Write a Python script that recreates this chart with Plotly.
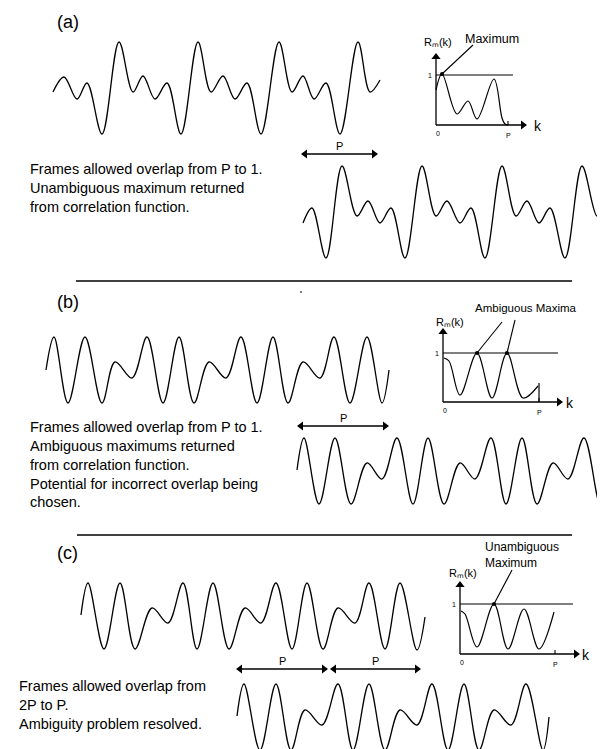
import plotly.graph_objects as go

# ---------------- data (page pixel coordinates) -------------
# (a) signal frames: extremum points
a_top_x = [53, 64, 77, 87, 102, 119, 133, 143, 155, 167, 181, 198, 211, 223, 235, 247, 261, 279, 292, 303, 314, 326, 340, 358, 370, 380]
a_top_y = [92, 77, 99, 83, 134, 42, 92, 76, 99, 83, 134, 42, 92, 76, 99, 83, 134, 42, 92, 76, 99, 83, 134, 42, 92, 80]
a_bot_x = [303, 312, 326, 342, 357, 368, 380, 391, 405, 422, 436, 447, 460, 471, 485, 502, 516, 527, 539, 550, 565, 582, 597, 604]
a_bot_y = [223, 208, 258, 166, 216, 201, 223, 208, 258, 166, 216, 201, 223, 208, 258, 166, 216, 201, 223, 208, 258, 166, 216, 204]
# (b)
b_top_x = [46, 54, 68, 85, 102, 115, 132, 147, 163, 179, 194, 209, 226, 241, 257, 273, 288, 303, 320, 334, 350, 367, 382, 389]
b_top_y = [370, 337, 403, 337, 403, 362, 378, 337, 403, 337, 403, 362, 378, 337, 403, 337, 403, 362, 378, 337, 403, 337, 403, 370]
b_bot_x = [297, 304, 319, 335, 351, 367, 382, 397, 413, 428, 444, 460, 475, 491, 506, 522, 537, 553, 568, 584, 600, 605]
b_bot_y = [470, 438, 504, 438, 504, 463, 479, 438, 504, 438, 504, 463, 479, 438, 504, 438, 504, 463, 479, 438, 504, 493]
# (c)
c_top_x = [81, 88, 104, 120, 135, 152, 168, 183, 197, 213, 229, 245, 261, 276, 292, 307, 323, 338, 355, 369, 385, 400, 417, 425]
c_top_y = [615, 583, 649, 583, 649, 608, 623, 583, 649, 583, 649, 608, 623, 583, 649, 583, 649, 608, 623, 583, 649, 583, 650, 617]
c_bot_x = [237, 244, 260, 276, 291, 305, 322, 338, 353, 369, 385, 400, 417, 432, 448, 464, 479, 494, 511, 526, 543, 549]
c_bot_y = [716, 684, 750, 684, 750, 710, 725, 684, 750, 684, 750, 710, 725, 684, 750, 684, 750, 710, 725, 684, 750, 717]

# correlation-function insets R_m(k)
ra_x = [436, 442, 457, 468, 477, 494, 502, 505, 508]
ra_y = [90, 74, 114, 101, 119, 79, 118, 124, 125]
rb_x = [444, 449, 460, 477, 492, 507, 523, 538]
rb_y = [358, 361, 395, 353, 398, 353, 398, 386]
rc_x = [461, 465, 477, 494, 508, 524, 539, 554]
rc_y = [611, 614, 647, 604, 649, 609, 649, 612]

# inset axes
inset_ox = [436, 443, 460]
inset_oy = [125, 402, 654]
inset_ytip = [53, 328, 581]
inset_xtip = [527, 563, 580]
inset_one = [75, 353, 604]
inset_one_end = [513, 558, 573]
inset_p = [508, 539, 555]
inset_label_x = [438, 450, 463]
inset_label_y = [42, 322, 573]
inset_k_x = [538, 570, 586]

# maxima marked on the correlation functions, and the pointer start points
max_x = [442, 477, 507, 494]
max_y = [74, 353, 353, 604]
ptr_x = [473, 502, 515, 512]
ptr_y = [45, 322, 320, 570]

# double-headed "P" arrows
p_x0 = [301, 297, 236, 330]
p_x1 = [378, 389, 328, 421]
p_y = [154, 426, 669, 669]

# separators
sep_x0 = [76, 77]
sep_x1 = [572, 572]
sep_y = [281, 535]

panel_labels = ["(a)", "(b)", "(c)"]
panel_label_y = [22, 302, 553]

text_a = ["Frames allowed overlap from P to 1.", "Unambiguous maximum returned", "from correlation function."]
text_b = ["Frames allowed overlap from P to 1.", "Ambiguous maximums returned", "from correlation function.",
          "Potential for incorrect overlap being", "chosen."]
text_c = ["Frames allowed overlap from", "2P to P.", "Ambiguity problem resolved."]
text_block_x = [28, 28, 17]
text_block_y = [188, 464, 705]

FONT = "Liberation Sans, Arial, sans-serif"
fig = go.Figure()


def curve(x, y, w=1.3):
    fig.add_trace(go.Scatter(x=x, y=y, mode="lines", hoverinfo="skip",
                             line=dict(color="black", width=w, shape="spline", smoothing=1.0)))


for xs, ys in [(a_top_x, a_top_y), (a_bot_x, a_bot_y), (b_top_x, b_top_y),
               (b_bot_x, b_bot_y), (c_top_x, c_top_y), (c_bot_x, c_bot_y)]:
    curve(xs, ys, 1.3)
for xs, ys in [(ra_x, ra_y), (rb_x, rb_y), (rc_x, rc_y)]:
    curve(xs, ys, 1.2)

ann = []
shapes = []
heads_x, heads_y, heads_sym = [], [], []


def text(x, y, s, size, anchor="left"):
    ann.append(dict(x=x, y=y, xref="x", yref="y", text=s, showarrow=False,
                    xanchor=anchor, yanchor="middle", align="left",
                    font=dict(family=FONT, size=size, color="black")))


def line(x0, y0, x1, y1, w=1.2):
    shapes.append(dict(type="line", x0=x0, y0=y0, x1=x1, y1=y1, xref="x", yref="y",
                       line=dict(color="black", width=w)))


# insets
for i in range(3):
    ox, oy = inset_ox[i], inset_oy[i]
    line(ox, oy, ox, inset_ytip[i] + 4, 1.3)
    line(ox, oy, inset_xtip[i] - 4, oy, 1.3)
    heads_x += [ox, inset_xtip[i] - 4]
    heads_y += [inset_ytip[i] + 4, oy]
    heads_sym += ["triangle-up", "triangle-right"]
    line(ox, inset_one[i], inset_one_end[i], inset_one[i], 1.1)
    line(inset_p[i], oy - 4, inset_p[i], oy, 1.1)
    text(ox - 2, inset_one[i], "1", 7, "right")
    text(ox + 2, oy + 8, "0", 7, "center")
    text(inset_p[i], oy + 10, "P", 7, "center")
    text(inset_k_x[i], oy + 1, "k", 14, "center")
    text(inset_label_x[i], inset_label_y[i], "R\u2098(k)", 11, "center")

# (b) inset: curve ends with a vertical stroke at P
line(539, 383, 539, 402, 1.2)

# pointers to maxima
for i in range(4):
    line(ptr_x[i], ptr_y[i], max_x[i], max_y[i], 1.1)
fig.add_trace(go.Scatter(x=max_x, y=max_y, mode="markers",
                         marker=dict(color="black", size=4), hoverinfo="skip"))
text(463, 39, "Maximum", 12.5)
text(473, 308, "Ambiguous Maxima", 11.5)
text(483, 555, "Unambiguous<br>Maximum", 12)

# P arrows
for i in range(4):
    line(p_x0[i] + 3, p_y[i], p_x1[i] - 3, p_y[i], 1.3)
    heads_x += [p_x0[i] + 4, p_x1[i] - 4]
    heads_y += [p_y[i], p_y[i]]
    heads_sym += ["triangle-left", "triangle-right"]
    text((p_x0[i] + p_x1[i]) / 2, p_y[i] - 8, "P", 11, "center")

fig.add_trace(go.Scatter(x=heads_x, y=heads_y, mode="markers", hoverinfo="skip",
                         marker=dict(color="black", size=8, symbol=heads_sym,
                                     line=dict(width=0))))

# separators and small mark
for i in range(2):
    line(sep_x0[i], sep_y[i], sep_x1[i], sep_y[i], 1.3)
line(300, 292, 302, 292, 1.2)

# panel labels
for lab, yy in zip(panel_labels, panel_label_y):
    text(55, yy, lab, 18)

# descriptions
for lines_, bx, by in zip([text_a, text_b, text_c], text_block_x, text_block_y):
    text(bx, by, "<br>".join(lines_), 14.5)

# the page body has an 8 px margin: map the data range to page pixels 8..605 / 8..749
fig.update_layout(
    width=597, height=741, margin=dict(l=0, r=0, t=0, b=0),
    paper_bgcolor="white", plot_bgcolor="white", showlegend=False,
    xaxis=dict(range=[8, 605], visible=False, fixedrange=True),
    yaxis=dict(range=[749, 8], visible=False, fixedrange=True),
    annotations=ann, shapes=shapes,
)
fig.write_html("out.html", config={"displayModeBar": False})
